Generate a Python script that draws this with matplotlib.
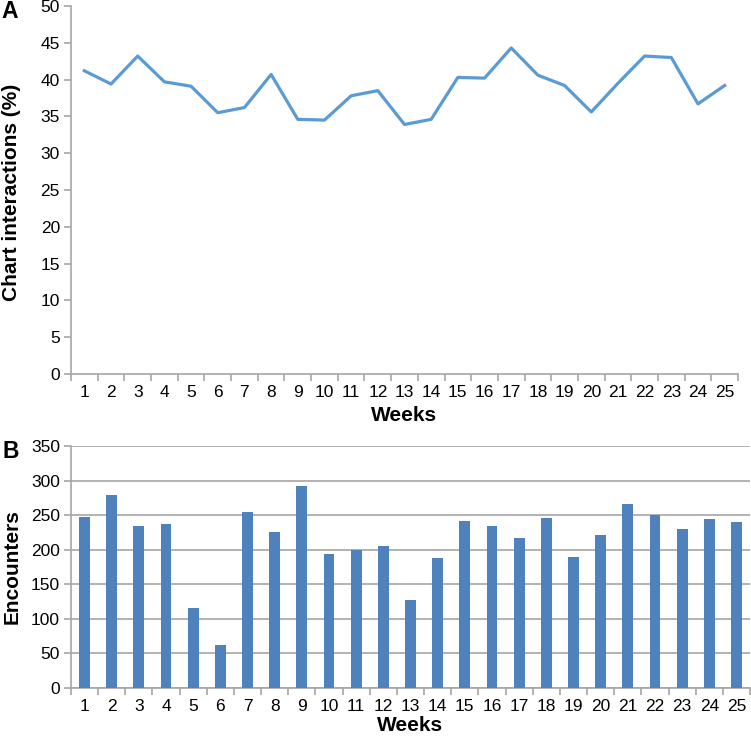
import numpy as np
import matplotlib.pyplot as plt

plt.rcParams['font.family'] = ['Liberation Sans', 'DejaVu Sans']

weeks = list(range(1, 26))
chart_pct = [41.2, 39.4, 43.2, 39.7, 39.1, 35.5, 36.2, 40.7, 34.6, 34.5,
             37.8, 38.5, 33.9, 34.6, 40.3, 40.2, 44.3, 40.6, 39.2, 35.6,
             39.5, 43.2, 43.0, 36.7, 39.2]
encounters = [248, 279, 234, 237, 115, 62, 254, 226, 292, 194,
              200, 205, 127, 188, 241, 234, 217, 246, 189, 222,
              266, 250, 230, 245, 240]

W, H = 751, 737
fig = plt.figure(figsize=(W / 100, H / 100), dpi=100)

def box(l, t, r, b):
    return [l / W, 1 - b / H, (r - l) / W, (b - t) / H]

axA = fig.add_axes(box(71, 6, 738, 374))
axB = fig.add_axes(box(71, 446, 750, 688))

spine_col = '#a6a6a6'
tick_fs = 12.5
lab_fs = 15

def style(ax, pad):
    for s in ['top', 'right']:
        ax.spines[s].set_visible(False)
    for s in ['left', 'bottom']:
        ax.spines[s].set_color(spine_col)
        ax.spines[s].set_linewidth(1.2)
    ax.set_xlim(0.5, 25.5)
    ax.set_xticks(np.arange(0.5, 26, 1))
    ax.set_xticklabels([])
    ax.set_xticks(weeks, minor=True)
    ax.set_xticklabels([str(w) for w in weeks], minor=True, fontsize=tick_fs)
    ax.tick_params(axis='x', which='major', length=5, color=spine_col, width=1.2)
    ax.tick_params(axis='x', which='minor', length=0, pad=8)
    ax.tick_params(axis='y', length=5, color=spine_col, width=1.2, labelsize=tick_fs, pad=3)
    ax.set_xlabel('Weeks', fontsize=lab_fs, fontweight='bold', labelpad=pad)

# Panel A
style(axA, 4)
axA.plot(weeks, chart_pct, color='#5b9bd5', lw=2.3)
axA.set_ylim(0, 50)
axA.set_yticks(range(0, 51, 5))

# Panel B
style(axB, 1.5)
axB.bar(weeks, encounters, width=0.4, color='#4f81bd', zorder=3)
axB.set_ylim(0, 350)
axB.set_yticks(range(0, 351, 50))
axB.grid(axis='y', color='#a6a6a6', lw=1.2, zorder=0)

# y labels placed in figure pixels
fig.text(12 / W, 1 - 192 / H, 'Chart interactions (%)', fontsize=lab_fs,
         fontweight='bold', rotation=90, ha='center', va='center')
fig.text(12 / W, 1 - 567 / H, 'Encounters', fontsize=lab_fs,
         fontweight='bold', rotation=90, ha='center', va='center')

fig.text(1 / W, 1 - 12 / H, 'A', fontsize=16.5, fontweight='bold', va='center', ha='left')
fig.text(2 / W, 1 - 451 / H, 'B', fontsize=16.5, fontweight='bold', va='center', ha='left')

fig.savefig('out.png', dpi=100)
